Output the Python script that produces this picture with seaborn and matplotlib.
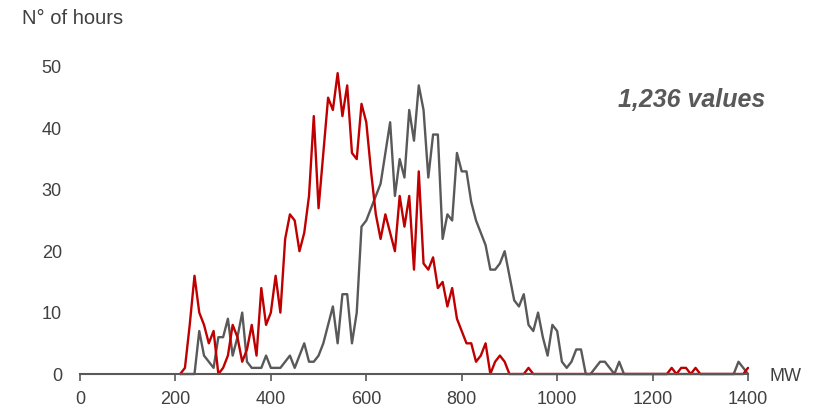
import matplotlib
matplotlib.use("Agg")
import matplotlib.pyplot as plt
import pandas as pd
import seaborn as sns

# hourly load distribution, 10 MW bins (210 ... 1400 MW)
mw_bins = list(range(210, 1410, 10))

red_hours = [
    0, 1, 8, 16, 10, 8, 5, 7, 0, 1,          # 210-300
    3, 8, 6, 2, 4, 8, 3, 14, 8, 10,          # 310-400
    16, 10, 22, 26, 25, 20, 23, 29, 42, 27,  # 410-500
    36, 45, 43, 49, 42, 47, 36, 35, 44, 41,  # 510-600
    33, 26, 22, 26, 23, 20, 29, 24, 29, 17,  # 610-700
    33, 18, 17, 19, 14, 15, 11, 14, 9, 7,    # 710-800
    5, 5, 2, 3, 5, 0, 2, 3, 2, 0,            # 810-900
    0, 0, 0, 1, 0, 0, 0, 0, 0, 0,            # 910-1000
    0, 0, 0, 0, 0, 0, 0, 0, 0, 0,            # 1010-1100
    0, 0, 0, 0, 0, 0, 0, 0, 0, 0,            # 1110-1200
    0, 0, 0, 1, 0, 1, 1, 0, 1, 0,            # 1210-1300
    0, 0, 0, 0, 0, 0, 0, 0, 0, 1,            # 1310-1400
]

grey_hours = [
    0, 0, 0, 0, 7, 3, 2, 1, 6, 6,            # 210-300
    9, 3, 6, 10, 2, 1, 1, 1, 3, 1,           # 310-400
    1, 1, 2, 3, 1, 3, 5, 2, 2, 3,            # 410-500
    5, 8, 11, 5, 13, 13, 5, 10, 24, 25,      # 510-600
    27, 29, 31, 36, 41, 29, 35, 32, 43, 38,  # 610-700
    47, 43, 32, 39, 39, 22, 26, 25, 36, 33,  # 710-800
    33, 28, 25, 23, 21, 17, 17, 18, 20, 16,  # 810-900
    12, 11, 13, 8, 7, 10, 6, 3, 8, 7,        # 910-1000
    2, 1, 2, 4, 4, 0, 0, 1, 2, 2,            # 1010-1100
    1, 0, 2, 0, 0, 0, 0, 0, 0, 0,            # 1110-1200
    0, 0, 0, 0, 0, 0, 0, 0, 0, 0,            # 1210-1300
    0, 0, 0, 0, 0, 0, 0, 2, 1, 0,            # 1310-1400
]

x_ticks = [0, 200, 400, 600, 800, 1000, 1200, 1400]
y_ticks = [0, 10, 20, 30, 40, 50]
count_label = "1,236 values"

RED = "#C00000"
GREY = "#595959"
TEXT = "#404040"

df = pd.DataFrame({
    "MW": mw_bins + mw_bins,
    "hours": grey_hours + red_hours,
    "series": ["grey"] * len(mw_bins) + ["red"] * len(mw_bins),
})

sns.set_theme(style="white")
plt.rcParams["font.family"] = ["Liberation Sans", "DejaVu Sans"]

fig = plt.figure(figsize=(8.27, 4.12), dpi=100)
ax = fig.add_axes([0.0967, 0.0922, 0.8078, 0.7452])

sns.lineplot(data=df, x="MW", y="hours", hue="series",
             hue_order=["grey", "red"],
             palette={"grey": GREY, "red": RED},
             linewidth=1.7, legend=False, ax=ax)
for line in ax.lines:
    line.set_clip_on(False)

ax.set_xlim(0, 1400)
ax.set_ylim(0, 50)
ax.set_xticks(x_ticks)
ax.set_yticks(y_ticks)
ax.set_xlabel("")
ax.set_ylabel("")

for side in ["left", "top", "right"]:
    ax.spines[side].set_visible(False)
ax.spines["bottom"].set_color(GREY)
ax.spines["bottom"].set_linewidth(1.5)

ax.tick_params(axis="x", direction="out", length=5, width=1.2, color=GREY,
               labelsize=13, labelcolor=TEXT, pad=7, bottom=True)
ax.tick_params(axis="y", length=0, labelsize=13, labelcolor=TEXT, pad=13)

fig.text(0.027, 0.956, "N° of hours", fontsize=14.5, color=TEXT, va="center", ha="left")
fig.text(0.931, 0.087, "MW", fontsize=13, color=TEXT, va="center", ha="left")
fig.text(0.925, 0.757, count_label, fontsize=18, color=GREY, fontweight="bold",
         fontstyle="italic", va="center", ha="right")

fig.savefig("out.png", dpi=100)
